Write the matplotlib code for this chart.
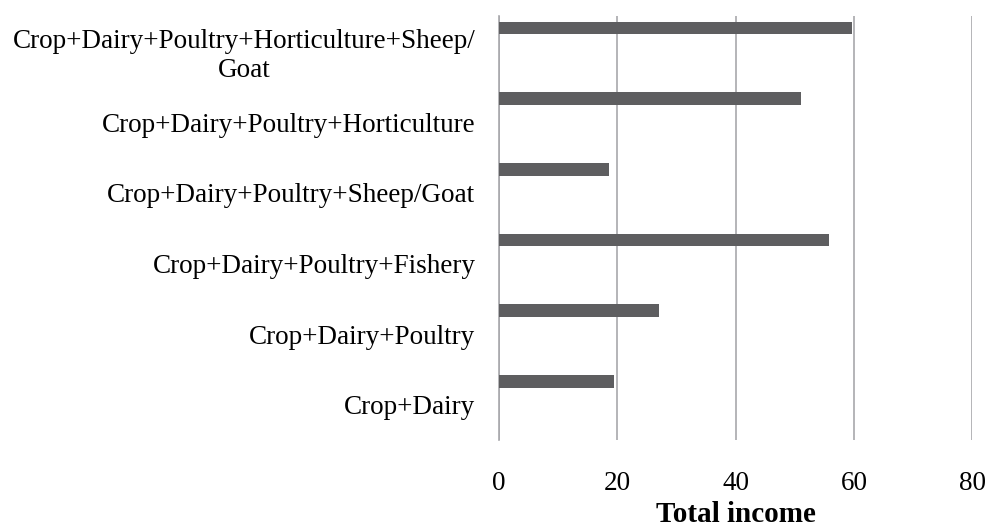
import matplotlib.pyplot as plt

categories = ["Crop+Dairy+Poultry+Horticulture+Sheep/\nGoat",
              "Crop+Dairy+Poultry+Horticulture",
              "Crop+Dairy+Poultry+Sheep/Goat",
              "Crop+Dairy+Poultry+Fishery",
              "Crop+Dairy+Poultry",
              "Crop+Dairy"]
income = [59.6, 51.0, 18.6, 55.8, 27.0, 19.4]
xticks = [0, 20, 40, 60, 80]

plt.rcParams['font.family'] = ['Liberation Serif', 'DejaVu Serif']

fig = plt.figure(figsize=(9.87, 5.31), dpi=100)
ax = fig.add_axes([499/987, 1-440/531, (972.5-499)/987, (440-16)/531])

pos = list(range(len(categories)))
# bars sit in the upper part of each band (Excel clustered look)
ax.barh([p - 0.33 for p in pos], income, height=0.18, color="#5e5e60", zorder=3)

ax.set_ylim(len(categories) - 0.5, -0.5)
ax.set_yticks(pos)
ax.set_yticklabels(categories, fontsize=19.5, multialignment="center")
ax.set_xlim(0, 80)
ax.set_xticks(xticks)
ax.set_xticklabels([str(t) for t in xticks], fontsize=19.5)
ax.tick_params(axis="both", length=0)
ax.tick_params(axis="y", pad=17)
ax.tick_params(axis="x", pad=22)

ax.grid(axis="x", color="#a8a8ac", linewidth=1.2, zorder=0)
for s in ["top", "right", "bottom"]:
    ax.spines[s].set_visible(False)
ax.spines["left"].set_color("#a8a8ac")
ax.spines["left"].set_linewidth(1.2)

ax.set_xlabel("Total income", fontsize=21, fontweight="bold", labelpad=4)

fig.savefig("out.png", dpi=100)
